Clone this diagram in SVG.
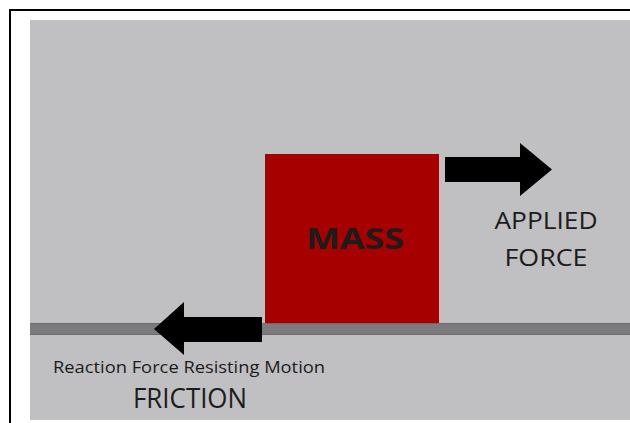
<svg xmlns="http://www.w3.org/2000/svg" width="630" height="423" viewBox="0 0 630 423">
<style>
.t{font-family:"Open Sans","Liberation Sans",sans-serif;fill:#1c1c1c}
.arrow{fill:#000}
</style>
<rect width="630" height="423" fill="#fff"/>
<path d="M10,423 V10 H630" fill="none" stroke="#000" stroke-width="2"/>
<rect x="30" y="20" width="600" height="400" fill="#c0bfc1"/>
<g id="ground">
<rect x="30" y="323" width="600" height="12" fill="#7b7b7d"/>
<rect x="30" y="323" width="600" height="1" fill="#6c6c6e"/>
<rect x="30" y="334" width="600" height="1" fill="#6c6c6e"/>
</g>
<g id="mass">
<rect x="265" y="154" width="174" height="169" fill="#a60000"/>
<text class="t" x="355" y="249" text-anchor="middle" font-size="29" font-weight="bold" textLength="98" lengthAdjust="spacingAndGlyphs" fill="#1a0000">MASS</text>
</g>
<g id="connectors">
<polygon class="arrow" points="445,157 520,157 520,143 552,169.5 520,196 520,182 445,182"/>
<polygon class="arrow" points="262,317 184,317 184,302 154,329 184,355 184,342 262,342"/>
</g>
<g id="applied">
<text class="t" x="546" y="229" text-anchor="middle" font-size="24" textLength="103" lengthAdjust="spacingAndGlyphs">APPLIED</text>
<text class="t" x="546" y="266" text-anchor="middle" font-size="24" textLength="83" lengthAdjust="spacingAndGlyphs">FORCE</text>
</g>
<g id="friction">
<text class="t" x="189" y="373" text-anchor="middle" font-size="17" textLength="272" lengthAdjust="spacingAndGlyphs">Reaction Force Resisting Motion</text>
<text class="t" x="190" y="408" text-anchor="middle" font-size="27" textLength="114" lengthAdjust="spacingAndGlyphs">FRICTION</text>
</g>
</svg>
